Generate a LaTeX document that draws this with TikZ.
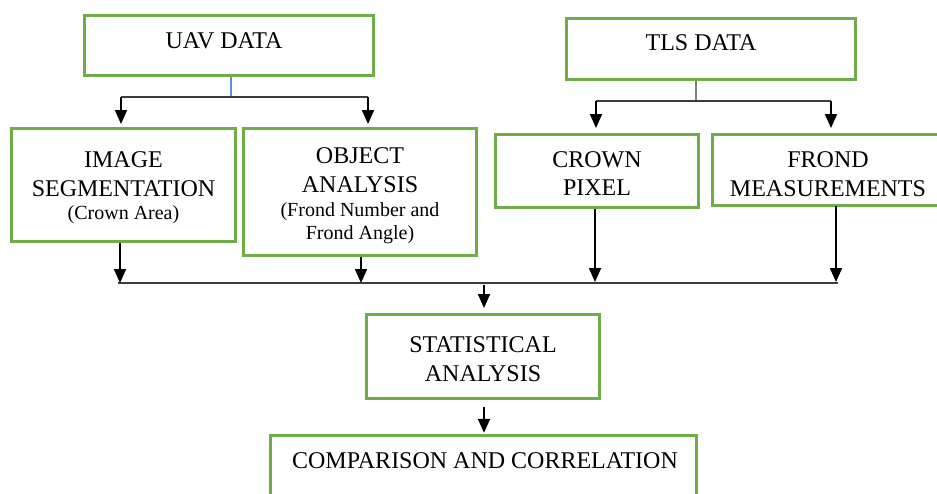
\documentclass[tikz,border=0pt]{standalone}
\usepackage{fontspec}
\setmainfont{Liberation Serif}
\usetikzlibrary{arrows.meta}
\definecolor{boxgreen}{RGB}{112,173,71}
\definecolor{stemblue}{RGB}{91,140,215}
\definecolor{linegray}{RGB}{60,60,60}
\tikzset{
  box/.style={draw=boxgreen, line width=3pt, inner sep=0pt},
  openbox/.style={inner sep=0pt},
  txt/.style={inner sep=0pt, align=center, font=\fontsize{24}{28.5}\selectfont},
  arr/.style={line width=1.8pt, -{Triangle[width=12pt,length=14pt]}},
  bus/.style={line width=1.2pt, draw=linegray},
}
\newcommand{\smalltext}[1]{{\fontsize{20}{23}\selectfont #1}}
\begin{document}
\begin{tikzpicture}[x=1pt,y=-1pt]
\clip (0,0) rectangle (937,493);
\fill[white] (0,0) rectangle (937,493);
% boxes
\node[box, minimum width=289pt, minimum height=60pt] (uav) at (229,45.5) {};
\node[txt] (uavt) at (224,41) {UAV DATA};
\node[box, minimum width=289pt, minimum height=61pt] (tls) at (711,49) {};
\node[txt] (tlst) at (701,43) {TLS DATA};
\node[box, minimum width=224pt, minimum height=113pt] (img) at (123.5,185) {};
\node[txt] (imgt) at ([yshift=-3pt]img.center)
  {IMAGE\\SEGMENTATION\\[-5pt]\smalltext{(Crown Area)}};
\node[box, minimum width=233pt, minimum height=127pt] (obj) at (360,192) {};
\node[txt] (objt) at ([yshift=-3.5pt]obj.center)
  {OBJECT\\[1pt]ANALYSIS\\[-5pt]\smalltext{(Frond Number and}\\[-5.5pt]\smalltext{Frond Angle)}};
\node[box, minimum width=203pt, minimum height=73pt] (crown) at (597,171) {};
\node[txt] (crownt) at ([yshift=-2.5pt]crown.center) {CROWN\\PIXEL};
\node[openbox, minimum width=250pt, minimum height=71pt] (frond) at (837.5,170) {};
\draw[boxgreen, line width=3pt] (frond.north east) -- (frond.north west)
  -- (frond.south west) -- (frond.south east);
\node[txt] (frondt) at (828,174) {FROND\\MEASUREMENTS};
\node[box, minimum width=233pt, minimum height=84pt] (stat) at (483,356.5) {};
\node[txt] (statt) at ([yshift=-2.5pt]stat.center) {STATISTICAL\\ANALYSIS};
\node[openbox, minimum width=426pt, minimum height=100pt] (comp) at (483.5,486) {};
\draw[boxgreen, line width=3pt] (comp.south west) -- (comp.north west)
  -- (comp.north east) -- (comp.south east);
\node[txt] (compt) at (485,461) {COMPARISON AND CORRELATION};
% junction coordinates
\coordinate (ua) at (231,97);
\coordinate (ual) at (121,97);
\coordinate (uar) at (368,97);
\coordinate (ta) at (696,101);
\coordinate (tal) at (596,101);
\coordinate (tar) at (831,101);
\coordinate (bl) at (118,283);
\coordinate (br) at (838,283);
\coordinate (bm) at (484,285);
% UAV branch
\draw[line width=1.2pt, stemblue] (uav.south -| ua) -- (ua);
\draw[bus] (ual) -- (uar);
\draw[arr] (ual) -- (121,124);
\draw[arr] (uar) -- (368,124);
% TLS branch
\draw[line width=1.4pt, gray] (tls.south -| ta) -- (ta);
\draw[bus] (tal) -- (tar);
\draw[arr] (tal) -- (596,128);
\draw[arr] (tar) -- (831,128);
% merge bus
\draw[arr] (img.south -| 120,0) -- (120,283);
\draw[arr] (obj.south -| 361,0) -- (361,283);
\draw[arr] (crown.south -| 595,0) -- (595,282);
\draw[arr] (frond.south -| 836,0) -- (836,282);
\draw[bus] (bl) -- (br);
\draw[arr] (bm) -- ([yshift=5pt]stat.north -| bm);
\draw[arr] ([yshift=-7pt]stat.south -| bm) -- ([yshift=3pt]comp.north -| bm);
\end{tikzpicture}
\end{document}
